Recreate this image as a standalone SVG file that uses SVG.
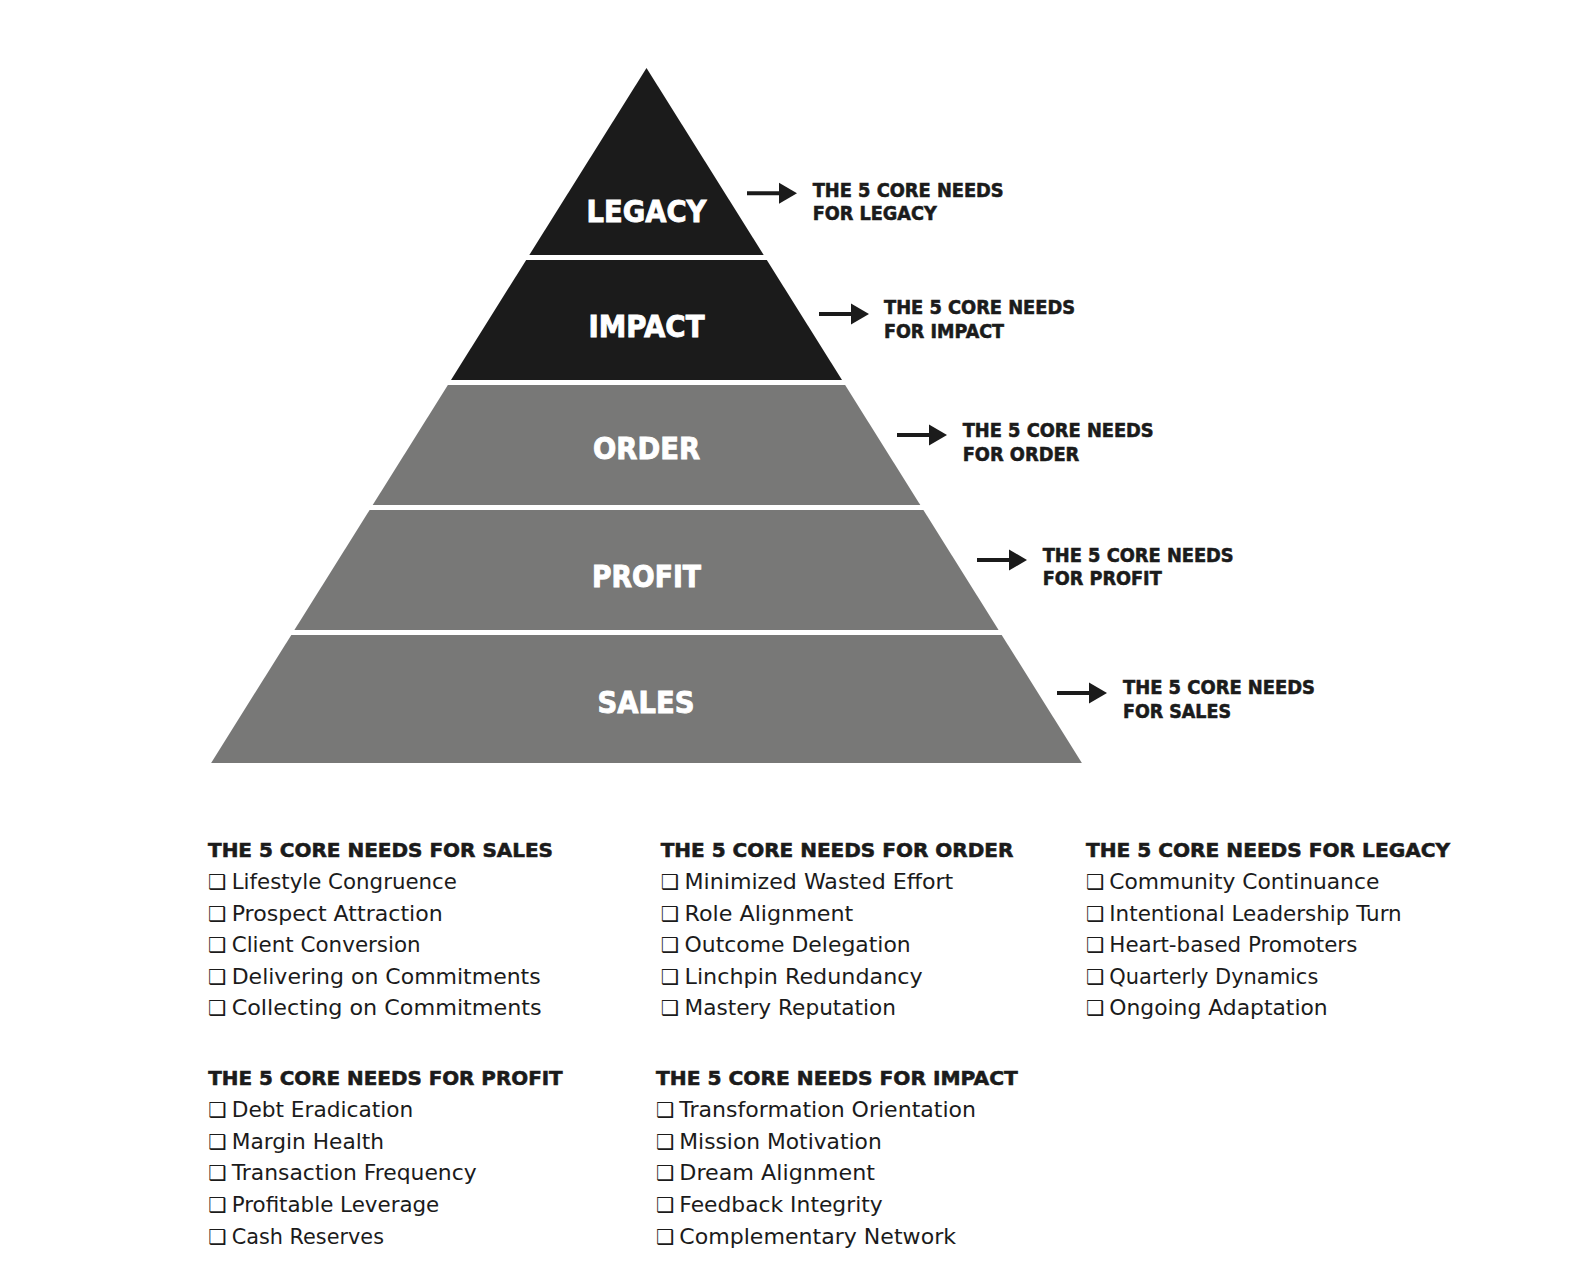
<svg xmlns="http://www.w3.org/2000/svg" width="1586" height="1286" viewBox="0 0 1586 1286">
<style>
.dark{fill:#1b1b1b}
.gray{fill:#787877}
.lvl{font-family:"DejaVu Sans","Liberation Sans",sans-serif;font-weight:bold;font-size:29.5px;fill:#ffffff;stroke:#ffffff;stroke-width:0.9;text-anchor:middle}
.side{font-family:"DejaVu Sans","Liberation Sans",sans-serif;font-weight:bold;font-size:19px;fill:#1b1b1b;stroke:#1b1b1b;stroke-width:0.6}
.head{font-family:"DejaVu Sans","Liberation Sans",sans-serif;font-weight:bold;font-size:20px;fill:#1b1b1b;stroke:#1b1b1b;stroke-width:0.6}
.item{font-family:"DejaVu Sans","Liberation Sans",sans-serif;font-size:20.5px;fill:#1b1b1b}
.arrow{stroke:#1b1b1b;stroke-width:4;fill:none}
</style>
<defs>
<marker id="ah" markerUnits="userSpaceOnUse" markerWidth="20" markerHeight="22" refX="0.5" refY="10.5" orient="auto" overflow="visible">
<path d="M0,0 L18,10.5 L0,21 Z" fill="#1b1b1b"/>
</marker>
</defs>
<rect width="1586" height="1286" fill="#ffffff"/>

<g id="level-legacy">
<polygon class="dark" points="646.5,68 763.7,255 529.3,255"/>
<text class="lvl" x="646.5" y="222" textLength="120" lengthAdjust="spacingAndGlyphs">LEGACY</text>
</g>
<g id="level-impact">
<polygon class="dark" points="526.2,260 766.8,260 842,380 451,380"/>
<text class="lvl" x="646.5" y="337" textLength="116" lengthAdjust="spacingAndGlyphs">IMPACT</text>
</g>
<g id="level-order">
<polygon class="gray" points="447.9,385 845.1,385 920.3,505 372.7,505"/>
<text class="lvl" x="646.5" y="459" textLength="107" lengthAdjust="spacingAndGlyphs">ORDER</text>
</g>
<g id="level-profit">
<polygon class="gray" points="369.6,510 923.4,510 998.6,630 294.4,630"/>
<text class="lvl" x="646.5" y="587" textLength="109" lengthAdjust="spacingAndGlyphs">PROFIT</text>
</g>
<g id="level-sales">
<polygon class="gray" points="291.3,635 1001.7,635 1081.9,763 211.1,763"/>
<text class="lvl" x="646" y="713" textLength="97" lengthAdjust="spacingAndGlyphs">SALES</text>
</g>

<g id="connectors">
<line class="arrow" x1="747" y1="193.3" x2="779.5" y2="193.3" marker-end="url(#ah)"/>
<line class="arrow" x1="819" y1="314" x2="851.5" y2="314" marker-end="url(#ah)"/>
<line class="arrow" x1="897" y1="435" x2="929.5" y2="435" marker-end="url(#ah)"/>
<line class="arrow" x1="977" y1="560" x2="1009.5" y2="560" marker-end="url(#ah)"/>
<line class="arrow" x1="1057" y1="693" x2="1089.5" y2="693" marker-end="url(#ah)"/>
</g>

<g id="label-legacy">
<text class="side" x="812.7" y="196.7" textLength="191" lengthAdjust="spacingAndGlyphs">THE 5 CORE NEEDS</text>
<text class="side" x="812.7" y="220.3" textLength="124" lengthAdjust="spacingAndGlyphs">FOR LEGACY</text>
</g>
<g id="label-impact">
<text class="side" x="884" y="314" textLength="191" lengthAdjust="spacingAndGlyphs">THE 5 CORE NEEDS</text>
<text class="side" x="884" y="338.3" textLength="120" lengthAdjust="spacingAndGlyphs">FOR IMPACT</text>
</g>
<g id="label-order">
<text class="side" x="962.7" y="437.3" textLength="191" lengthAdjust="spacingAndGlyphs">THE 5 CORE NEEDS</text>
<text class="side" x="962.7" y="460.7" textLength="116.6" lengthAdjust="spacingAndGlyphs">FOR ORDER</text>
</g>
<g id="label-profit">
<text class="side" x="1042.7" y="562.3" textLength="191" lengthAdjust="spacingAndGlyphs">THE 5 CORE NEEDS</text>
<text class="side" x="1042.7" y="585" textLength="119" lengthAdjust="spacingAndGlyphs">FOR PROFIT</text>
</g>
<g id="label-sales">
<text class="side" x="1123" y="694" textLength="192" lengthAdjust="spacingAndGlyphs">THE 5 CORE NEEDS</text>
<text class="side" x="1123" y="718" textLength="108" lengthAdjust="spacingAndGlyphs">FOR SALES</text>
</g>

<g id="list-sales">
<text class="head" x="208" y="856.5" textLength="345" lengthAdjust="spacingAndGlyphs">THE 5 CORE NEEDS FOR SALES</text>
<text class="item" x="208" y="888.5">❑<tspan x="231.7" textLength="225.3" lengthAdjust="spacingAndGlyphs">Lifestyle Congruence</tspan></text>
<text class="item" x="208" y="920.5">❑<tspan x="231.7" textLength="211" lengthAdjust="spacingAndGlyphs">Prospect Attraction</tspan></text>
<text class="item" x="208" y="952">❑<tspan x="231.7" textLength="189" lengthAdjust="spacingAndGlyphs">Client Conversion</tspan></text>
<text class="item" x="208" y="983.8">❑<tspan x="231.7" textLength="309" lengthAdjust="spacingAndGlyphs">Delivering on Commitments</tspan></text>
<text class="item" x="208" y="1015.3">❑<tspan x="231.7" textLength="310" lengthAdjust="spacingAndGlyphs">Collecting on Commitments</tspan></text>
</g>

<g id="list-order">
<text class="head" x="660.7" y="856.5" textLength="352.6" lengthAdjust="spacingAndGlyphs">THE 5 CORE NEEDS FOR ORDER</text>
<text class="item" x="660.7" y="888.5">❑<tspan x="684.5" textLength="268.8" lengthAdjust="spacingAndGlyphs">Minimized Wasted Effort</tspan></text>
<text class="item" x="660.7" y="920.5">❑<tspan x="684.5" textLength="168.8" lengthAdjust="spacingAndGlyphs">Role Alignment</tspan></text>
<text class="item" x="660.7" y="952">❑<tspan x="684.5" textLength="226.2" lengthAdjust="spacingAndGlyphs">Outcome Delegation</tspan></text>
<text class="item" x="660.7" y="983.8">❑<tspan x="684.5" textLength="238.2" lengthAdjust="spacingAndGlyphs">Linchpin Redundancy</tspan></text>
<text class="item" x="660.7" y="1015.3">❑<tspan x="684.5" textLength="211.5" lengthAdjust="spacingAndGlyphs">Mastery Reputation</tspan></text>
</g>

<g id="list-legacy">
<text class="head" x="1086" y="856.5" textLength="364" lengthAdjust="spacingAndGlyphs">THE 5 CORE NEEDS FOR LEGACY</text>
<text class="item" x="1086" y="888.5">❑<tspan x="1109.3" textLength="270" lengthAdjust="spacingAndGlyphs">Community Continuance</tspan></text>
<text class="item" x="1086" y="920.5">❑<tspan x="1109.3" textLength="292.4" lengthAdjust="spacingAndGlyphs">Intentional Leadership Turn</tspan></text>
<text class="item" x="1086" y="952">❑<tspan x="1109.3" textLength="248" lengthAdjust="spacingAndGlyphs">Heart-based Promoters</tspan></text>
<text class="item" x="1086" y="983.8">❑<tspan x="1109.3" textLength="209" lengthAdjust="spacingAndGlyphs">Quarterly Dynamics</tspan></text>
<text class="item" x="1086" y="1015.3">❑<tspan x="1109.3" textLength="218.4" lengthAdjust="spacingAndGlyphs">Ongoing Adaptation</tspan></text>
</g>

<g id="list-profit">
<text class="head" x="208.3" y="1085" textLength="354.4" lengthAdjust="spacingAndGlyphs">THE 5 CORE NEEDS FOR PROFIT</text>
<text class="item" x="208.3" y="1116.8">❑<tspan x="231.7" textLength="181.6" lengthAdjust="spacingAndGlyphs">Debt Eradication</tspan></text>
<text class="item" x="208.3" y="1148.5">❑<tspan x="231.7" textLength="152.3" lengthAdjust="spacingAndGlyphs">Margin Health</tspan></text>
<text class="item" x="208.3" y="1180">❑<tspan x="231.7" textLength="245" lengthAdjust="spacingAndGlyphs">Transaction Frequency</tspan></text>
<text class="item" x="208.3" y="1212">❑<tspan x="231.7" textLength="207.6" lengthAdjust="spacingAndGlyphs">Profitable Leverage</tspan></text>
<text class="item" x="208.3" y="1243.5">❑<tspan x="231.7" textLength="152.3" lengthAdjust="spacingAndGlyphs">Cash Reserves</tspan></text>
</g>

<g id="list-impact">
<text class="head" x="656" y="1085" textLength="361.7" lengthAdjust="spacingAndGlyphs">THE 5 CORE NEEDS FOR IMPACT</text>
<text class="item" x="656" y="1116.8">❑<tspan x="679.3" textLength="296.7" lengthAdjust="spacingAndGlyphs">Transformation Orientation</tspan></text>
<text class="item" x="656" y="1148.5">❑<tspan x="679.3" textLength="202.4" lengthAdjust="spacingAndGlyphs">Mission Motivation</tspan></text>
<text class="item" x="656" y="1180">❑<tspan x="679.3" textLength="195.7" lengthAdjust="spacingAndGlyphs">Dream Alignment</tspan></text>
<text class="item" x="656" y="1212">❑<tspan x="679.3" textLength="203.4" lengthAdjust="spacingAndGlyphs">Feedback Integrity</tspan></text>
<text class="item" x="656" y="1243.5">❑<tspan x="679.3" textLength="276.7" lengthAdjust="spacingAndGlyphs">Complementary Network</tspan></text>
</g>
</svg>
